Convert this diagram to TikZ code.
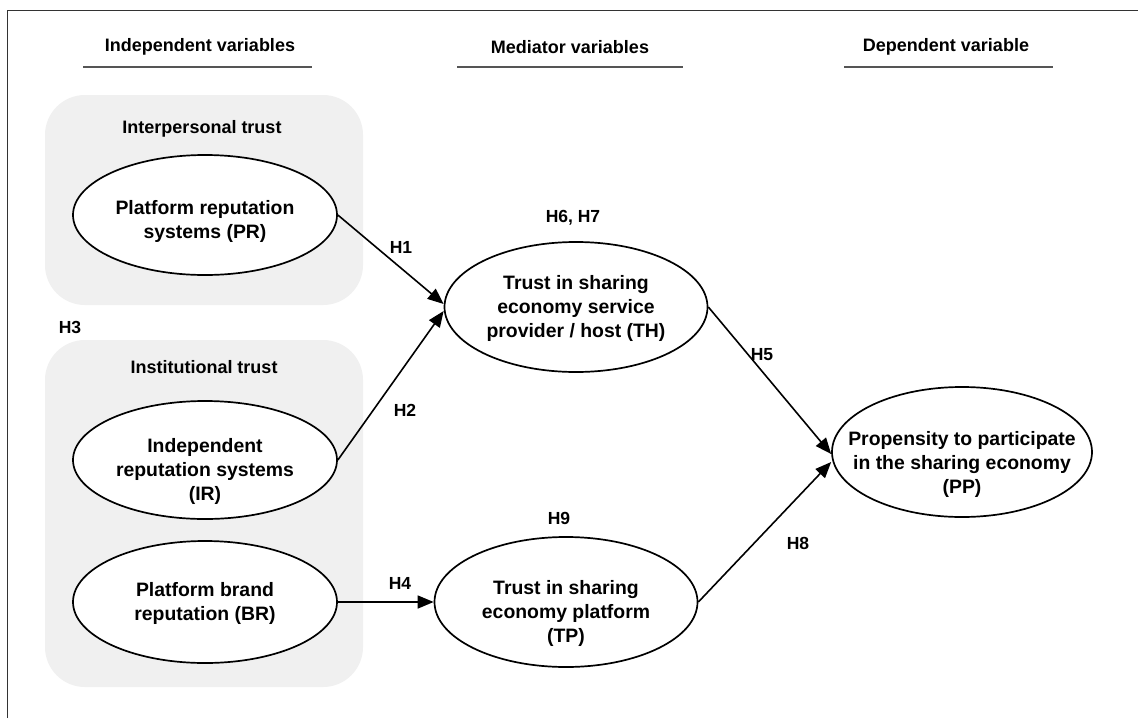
\documentclass[tikz,border=0pt]{standalone}
\usepackage{fontspec}
\setmainfont{Liberation Sans}
\usetikzlibrary{shapes.geometric,arrows.meta,calc}
\definecolor{groupfill}{HTML}{F0F0F0}
\definecolor{framegray}{HTML}{333333}
\definecolor{rulegray}{HTML}{555555}
% centred block of lines that does not enlarge its ellipse; #1 lowers/raises it
\newcommand\stackedlines[2]{\makebox[0pt]{\smash{\raisebox{#1}{\begin{tabular}{@{}c@{}}#2\end{tabular}}}}}
\begin{document}
\begin{tikzpicture}[x=1pt,y=-1pt,
  construct/.style={ellipse, draw=black, line width=1.7pt, fill=white,
    minimum width=264pt, minimum height=120pt, inner sep=0pt,
    font=\fontsize{19.4}{24}\selectfont\bfseries},
  group/.style={fill=groupfill, rounded corners=40pt, inner sep=0pt},
  heading/.style={font=\fontsize{18}{22}\selectfont\bfseries, inner sep=0pt},
  hyp/.style={font=\fontsize{17.5}{21}\selectfont\bfseries, inner sep=0pt},
  causal/.style={line width=1.6pt, -{Triangle[length=16pt,width=13pt]}},
  headrule/.style={draw=rulegray, line width=1.5pt}
]
\useasboundingbox (0,0) rectangle (1138,718);
\fill[white] (0,0) rectangle (1138,718);

% frame (left and top edges)
\draw[framegray, line width=1.3pt] (7.5,718) -- (7.5,10.5) -- (1138,10.5);

% column headings with their rules
\node[heading] (hIV) at (200,47) {Independent variables};
\node[heading] (hMV) at (570,47) {Mediator variables};
\node[heading] (hDV) at (946,47) {Dependent variable};
\draw[headrule] (83,67) -- (312,67);
\draw[headrule] (457,67) -- (683,67);
\draw[headrule] (844,67) -- (1053,67);

% trust groups
\path[group] (45,95) rectangle (363,305);
\path[group] (45,340) rectangle (363,687);
\node[heading] (gInter) at (202,129) {Interpersonal trust};
\node[heading] (gInst) at (204,367) {Institutional trust};

% constructs
\node[construct] (pr) at (205,215)
  {\stackedlines{-11.5pt}{Platform reputation\\systems (PR)}};
\node[construct, minimum height=118pt] (ir) at (205,460)
  {\stackedlines{-17pt}{Independent\\reputation systems\\(IR)}};
\node[construct, minimum height=122pt] (br) at (205,602)
  {\stackedlines{-7pt}{Platform brand\\reputation (BR)}};
\node[construct, minimum width=263pt, minimum height=130pt] (th) at (576,307)
  {\stackedlines{-7pt}{Trust in sharing\\economy service\\provider / host (TH)}};
\node[construct, minimum width=263pt, minimum height=130pt] (tp) at (566,602)
  {\stackedlines{-17pt}{Trust in sharing\\economy platform\\(TP)}};
\node[construct, minimum width=260pt, minimum height=130pt] (pp) at (962,452)
  {\stackedlines{-18pt}{Propensity to participate\\in the sharing economy\\(PP)}};

% hypothesised paths
\draw[causal] (pr.east) -- ($(th.west)+(0,-3)$);
\draw[causal] (ir.east) -- ($(th.west)+(0,4)$);
\draw[causal] (br.east) -- (tp.west);
\draw[causal] (th.east) -- ($(pp.west)+(0,2)$);
\draw[causal] (tp.east) -- ($(pp.west)+(0,10)$);

% hypothesis labels
\node[hyp] (h1) at (401,247) {H1};
\node[hyp] (h2) at (405,410) {H2};
\node[hyp] (h3) at (70,327) {H3};
\node[hyp] (h4) at (400,583) {H4};
\node[hyp] (h5) at (762,355) {H5};
\node[hyp] (h67) at (573,218) {H6, H7};
\node[hyp] (h8) at (798,543) {H8};
\node[hyp] (h9) at (559,518) {H9};
\end{tikzpicture}
\end{document}
